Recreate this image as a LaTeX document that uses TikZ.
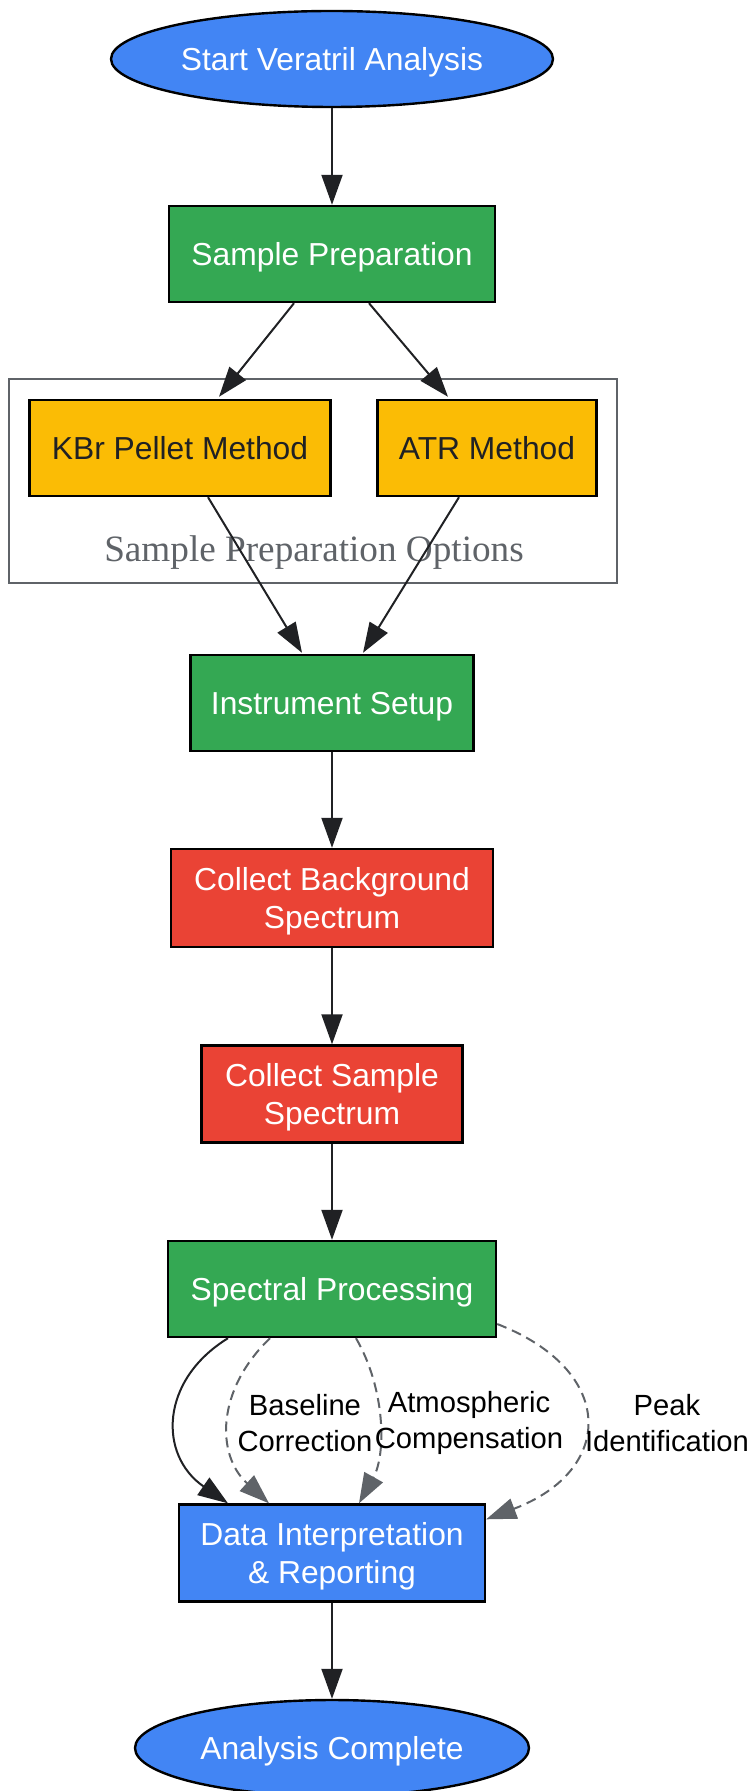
\documentclass[tikz,border=0pt]{standalone}
\usepackage{fontspec}
\setmainfont{Liberation Sans}
\newfontfamily\serifcl{Liberation Serif}
\usetikzlibrary{shapes.geometric,arrows.meta,calc}
\definecolor{gblue}{HTML}{4285F4}
\definecolor{ggreen}{HTML}{34A853}
\definecolor{gred}{HTML}{EA4335}
\definecolor{gyellow}{HTML}{FBBC05}
\definecolor{gdark}{HTML}{202124}
\definecolor{ggray}{HTML}{5F6368}
\newcommand{\topstr}{\rule[-4pt]{0pt}{19.5pt}}
\newcommand{\botstr}{\rule[-4pt]{0pt}{4pt}}
\tikzset{
  nodetext/.style={font=\fontsize{15.9}{18.8}\selectfont, align=center, inner sep=0pt},
  boxnode/.style={nodetext, rectangle, draw=black, line width=1.2pt, minimum height=48pt},
  ovalnode/.style={nodetext, ellipse, draw=black, line width=1.2pt, fill=gblue, text=white, minimum height=48pt},
  edgeline/.style={draw=gdark, line width=1pt, -{Triangle[length=15pt,width=10.5pt]}},
  dashline/.style={draw=ggray, line width=1pt, dash pattern=on 5pt off 3pt, -{Triangle[length=15pt,width=10.5pt]}},
  edgelabel/.style={font=\fontsize{14.6}{17.7}\selectfont, align=center, inner sep=0pt, text=black}
}
\begin{document}
\begin{tikzpicture}[x=0.5pt,y=-0.5pt]
\useasboundingbox (0,0) rectangle (753,1791);
% cluster
\node[draw=ggray, line width=1pt, minimum width=304pt, minimum height=102pt, inner sep=0pt] (cl) at (313,481) {};
\node[font=\serifcl\fontsize{18.6}{20}\selectfont, text=ggray, inner sep=0pt] (cllabel) at (314,553) {Sample Preparation Options};
% nodes
\node[ovalnode, minimum width=221pt] (start) at (332,59) {\topstr Start Veratril Analysis};
\node[boxnode, fill=ggreen, text=white, minimum width=163pt] (prep) at (332,254) {\topstr Sample Preparation};
\node[boxnode, fill=gyellow, text=gdark, minimum width=150.5pt] (kbr) at (180,448) {\topstr KBr Pellet Method};
\node[boxnode, fill=gyellow, text=gdark, minimum width=109.5pt] (atr) at (487,448) {\topstr ATR Method};
\node[boxnode, fill=ggreen, text=white, minimum width=141.5pt] (inst) at (332,703) {\topstr Instrument Setup};
\node[boxnode, fill=gred, text=white, minimum width=161pt, minimum height=49pt] (bg) at (332,898) {\topstr Collect Background\\Spectrum\botstr};
\node[boxnode, fill=gred, text=white, minimum width=130.5pt, minimum height=48.5pt] (smp) at (332,1094) {\topstr Collect Sample\\Spectrum\botstr};
\node[boxnode, fill=ggreen, text=white, minimum width=164pt] (proc) at (332,1289) {\topstr Spectral Processing};
\node[boxnode, fill=gblue, text=white, minimum width=153pt, minimum height=48.5pt] (interp) at (332,1553) {\topstr Data Interpretation\\\& Reporting\botstr};
\node[ovalnode, minimum width=197pt] (done) at (332,1748) {\topstr Analysis Complete};
% edges
\draw[edgeline] (start) -- (prep);
\draw[edgeline] ($(prep.south)+(-38,0)$) -- ($(kbr.north)+(39,-2)$);
\draw[edgeline] ($(prep.south)+(37,0)$) -- ($(atr.north)+(-39,-2)$);
\draw[edgeline] ($(kbr.south)+(28,0)$) -- ($(inst.north)+(-30,-1)$);
\draw[edgeline] ($(atr.south)+(-28,0)$) -- ($(inst.north)+(31,-1)$);
\draw[edgeline] (inst) -- (bg);
\draw[edgeline] (bg) -- (smp);
\draw[edgeline] (smp) -- (proc);
\draw[edgeline] ($(proc.south)+(-104,0)$) .. controls (160,1380) and (158,1455) .. ($(interp.north)+(-104,0)$);
\draw[dashline] ($(proc.south)+(-62,0)$) .. controls (216,1390) and (216,1455) .. ($(interp.north)+(-63,0)$);
\draw[dashline] ($(proc.south)+(24,0)$) .. controls (386,1390) and (386,1455) .. ($(interp.north)+(27,0)$);
\draw[dashline] ($(proc.east)+(0,35)$) .. controls (616,1370) and (616,1470) .. ($(interp.north east)+(0,16)$);
\draw[edgeline] (interp) -- (done);
% edge labels
\node[edgelabel] (lb1) at (305,1423) {Baseline\\Correction};
\node[edgelabel] (lb2) at (469,1423) {Atmospheric\\Compensation};
\node[edgelabel] (lb3) at (667,1423) {Peak\\Identification};
\end{tikzpicture}
\end{document}
